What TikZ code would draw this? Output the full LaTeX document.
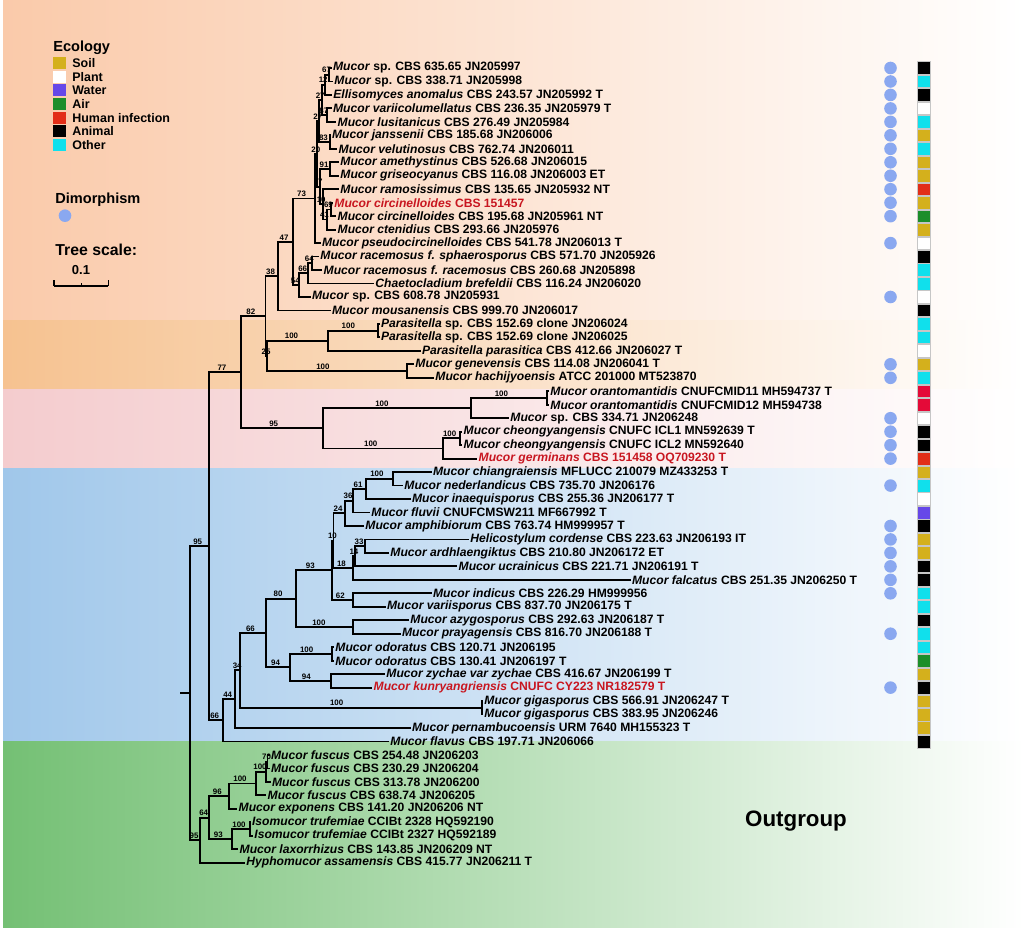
\documentclass[tikz,border=0pt]{standalone}
\usepackage{fontspec}
\setmainfont{Liberation Sans}
\usepackage{tikz}
\usetikzlibrary{positioning}
\definecolor{soilgold}{RGB}{212,176,28}
\definecolor{plantwhite}{RGB}{255,255,255}
\definecolor{waterpurple}{RGB}{102,72,232}
\definecolor{airgreen}{RGB}{28,142,42}
\definecolor{humanred}{RGB}{226,46,24}
\definecolor{crimsonred}{RGB}{228,10,56}
\definecolor{othercyan}{RGB}{16,224,236}
\definecolor{dimblue}{RGB}{138,168,240}
\definecolor{taxonred}{RGB}{200,22,32}
\definecolor{bandpeach}{RGB}{250,202,170}
\definecolor{bandorange}{RGB}{246,194,144}
\definecolor{bandpink}{RGB}{244,204,206}
\definecolor{bandblue}{RGB}{160,199,234}
\definecolor{bandgreen}{RGB}{116,192,116}

\begin{document}
\begin{tikzpicture}[x=0.02cm, y=-0.02cm,
    branch/.style={line width=1.05pt, black},
    leaf/.style={anchor=west, inner sep=0.6pt, font=\fontsize{6.9}{7}\selectfont\bfseries},
    sup/.style={pos=0.7, anchor=south, inner sep=0.5pt, font=\fontsize{4.5}{5}\selectfont\bfseries},
    legendtext/.style={anchor=west, inner sep=0pt, font=\fontsize{7.1}{8}\selectfont\bfseries},
    heading/.style={anchor=west, inner sep=0pt, font=\fontsize{8.3}{9}\selectfont\bfseries},
    declare function={ry(\i)=54.53+13.47*\i;}]
    \useasboundingbox (0,0) rectangle (1024,928);

    % Clade bands
    \fill[white] (0,0) rectangle (1024,928);
    \shade[left color=bandpeach, right color=white] (3,0) rectangle (1024,321);
    \shade[left color=bandorange, right color=white] (3,321) rectangle (1024,390);
    \shade[left color=bandpink, right color=white] (3,390) rectangle (1024,469);
    \shade[left color=bandblue, right color=white] (3,469) rectangle (1024,741);
    \shade[left color=bandgreen, right color=white] (3,741) rectangle (1024,928);

    % Legend
    \node[heading] (ecology) at (53,48) {Ecology};
    \foreach \k/\col in {0/soilgold, 1/plantwhite, 2/waterpurple, 3/airgreen,
                         4/humanred, 5/black, 6/othercyan} {
        \fill[\col] (53,{63.3+13.6*\k-6}) rectangle (65.7,{63.3+13.6*\k+6});
    }
    \foreach \k/\t in {0/Soil, 1/Plant, 2/Water, 3/Air, 4/Human infection, 5/Animal, 6/Other} {
        \node[legendtext] (eco\k) at (72,{63.3+13.6*\k}) {\t};
    }
    \node[heading] (dimorph) at (55,200) {Dimorphism};
    \fill[dimblue] (65,215.7) circle (6.3);
    \node[heading, font=\fontsize{9}{10}\selectfont\bfseries] (treescale) at (55,250) {Tree scale:};
    \node[font=\fontsize{7.4}{8}\selectfont\bfseries, inner sep=0pt] (scaleval) at (81,270) {0.1};
    \coordinate (sbl) at (54,286);
    \coordinate (sbr) at (108.3,286);
    \coordinate (sbm) at (81.2,286);
    \draw[line width=0.6pt] (sbl) -- (sbr);
    \draw[line width=0.6pt] (sbl) -- ++(0,-5.5);
    \draw[line width=0.6pt] (sbr) -- ++(0,-5.5);
    \draw[line width=0.6pt] (sbm) -- ++(0,-2.5);

    % Taxa
    \foreach \i/\lx/\col/\gen/\rest in {
        1/332.7/black/Mucor/sp. CBS 635.65 JN205997,
        2/334/black/Mucor/sp. CBS 338.71 JN205998,
        3/333/black/Ellisomyces anomalus/CBS 243.57 JN205992 T,
        4/332.7/black/Mucor variicolumellatus/CBS 236.35 JN205979 T,
        5/337.3/black/Mucor lusitanicus/CBS 276.49 JN205984,
        6/331.7/black/Mucor janssenii/CBS 185.68 JN206006,
        7/338.3/black/Mucor velutinosus/CBS 762.74 JN206011,
        8/340/black/Mucor amethystinus/CBS 526.68 JN206015,
        9/340/black/Mucor griseocyanus/CBS 116.08 JN206003 ET,
        10/340/black/Mucor ramosissimus/CBS 135.65 JN205932 NT,
        11/334/taxonred/Mucor circinelloides/CBS 151457,
        12/337.3/black/Mucor circinelloides/CBS 195.68 JN205961 NT,
        13/337.3/black/Mucor ctenidius/CBS 293.66 JN205976,
        14/321.7/black/Mucor pseudocircinelloides/CBS 541.78 JN206013 T,
        15/320/black/Mucor racemosus f. sphaerosporus/CBS 571.70 JN205926,
        16/323.3/black/Mucor racemosus f. racemosus/CBS 260.68 JN205898,
        17/375/black/Chaetocladium brefeldii/CBS 116.24 JN206020,
        18/311.7/black/Mucor/sp. CBS 608.78 JN205931,
        19/331.7/black/Mucor mousanensis/CBS 999.70 JN206017,
        20/380.7/black/Parasitella/sp. CBS 152.69 clone JN206024,
        21/380.7/black/Parasitella/sp. CBS 152.69 clone JN206025,
        22/421.7/black/Parasitella parasitica/CBS 412.66 JN206027 T,
        23/415/black/Mucor genevensis/CBS 114.08 JN206041 T,
        24/435/black/Mucor hachijyoensis/ATCC 201000 MT523870,
        25/550/black/Mucor orantomantidis/CNUFCMID11 MH594737 T,
        26/550/black/Mucor orantomantidis/CNUFCMID12 MH594738,
        27/510/black/Mucor/sp. CBS 334.71 JN206248,
        28/463.3/black/Mucor cheongyangensis/CNUFC ICL1 MN592639 T,
        29/463.3/black/Mucor cheongyangensis/CNUFC ICL2 MN592640,
        30/478.3/taxonred/Mucor germinans/CBS 151458 OQ709230 T,
        31/432.7/black/Mucor chiangraiensis/MFLUCC 210079 MZ433253 T,
        32/404/black/Mucor nederlandicus/CBS 735.70 JN206176,
        33/411.7/black/Mucor inaequisporus/CBS 255.36 JN206177 T,
        34/371/black/Mucor fluvii/CNUFCMSW211 MF667992 T,
        35/365/black/Mucor amphibiorum/CBS 763.74 HM999957 T,
        36/470/black/Helicostylum cordense/CBS 223.63 JN206193 IT,
        37/390/black/Mucor ardhlaengiktus/CBS 210.80 JN206172 ET,
        38/458.3/black/Mucor ucrainicus/CBS 221.71 JN206191 T,
        39/631.7/black/Mucor falcatus/CBS 251.35 JN206250 T,
        40/432.7/black/Mucor indicus/CBS 226.29 HM999956,
        41/386.7/black/Mucor variisporus/CBS 837.70 JN206175 T,
        42/410/black/Mucor azygosporus/CBS 292.63 JN206187 T,
        43/401.7/black/Mucor prayagensis/CBS 816.70 JN206188 T,
        44/335/black/Mucor odoratus/CBS 120.71 JN206195,
        45/335/black/Mucor odoratus/CBS 130.41 JN206197 T,
        46/386/black/Mucor zychae var zychae/CBS 416.67 JN206199 T,
        47/373.3/taxonred/Mucor kunryangriensis/CNUFC CY223 NR182579 T,
        48/484/black/Mucor gigasporus/CBS 566.91 JN206247 T,
        49/484/black/Mucor gigasporus/CBS 383.95 JN206246,
        50/411.7/black/Mucor pernambucoensis/URM 7640 MH155323 T,
        51/390/black/Mucor flavus/CBS 197.71 JN206066,
        52/270.7/black/Mucor fuscus/CBS 254.48 JN206203,
        53/270.7/black/Mucor fuscus/CBS 230.29 JN206204,
        54/271.7/black/Mucor fuscus/CBS 313.78 JN206200,
        55/267.3/black/Mucor fuscus/CBS 638.74 JN206205,
        56/238.3/black/Mucor exponens/CBS 141.20 JN206206 NT,
        57/251.7/black/Isomucor trufemiae/CCIBt 2328 HQ592190,
        58/254/black/Isomucor trufemiae/CCIBt 2327 HQ592189,
        59/239.3/black/Mucor laxorrhizus/CBS 143.85 JN206209 NT,
        60/246/black/Hyphomucor assamensis/CBS 415.77 JN206211 T} {
        \node[leaf, text=\col] (l\i) at ({\lx-1},{ry(\i)}) {\textit{\gen} \rest};
    }

    % Internal nodes
    \foreach \n/\nx/\ny in {
        n67/329/74.75, n12/325/84.8, n87/326.7/115.15, n27c/322/100, n83/330/142.1,
        n27b/319/121, n91/330/169, n69/331/209.5, n41/326.7/219.5, n10a/323/204.4,
        n27d/320/186.7, n20/317/153.9, n73/315/198.5, n64/311.7/263.3, n66/307.7/273.4,
        n54/299.3/285.2, n47/292.7/241.9, n38/278.3/276.2, n100a/378.3/330.7,
        n100b/328.3/340.8, n100c/406.7/371.1, n25/267/356, n82/265.5/316.1,
        n100d/547.3/398, n100e/470.7/408.1, n100f/460/438.4, n100g/442.7/448.5,
        n95a/322.7/428.3, n77/241/372.2, n100h/393.3/478.8, n61/366/488.9,
        n36/352.7/500.7, n24/345/513.3, n33/365/546.15, n14/355/556.3, n18/353.3/568,
        n10b/333.5/540.7, n62/353.3/600, n93/331.7/570.4, n100i/353.3/627,
        n80/296/598.7, n100j/331.7/653.9, n94b/330.7/680.9, n94a/290/667.4,
        n66b/266/633, n100k/481.7/707.8, n34/240/670.4, n44/235.3/699.2,
        n66a/222.7/720.3, n95b/209.3/546.3, n70/267.5/761.7, n100l/266/771.8,
        n100m/256/783.5, n96/229.3/796.2, n100n/250/829, n93b/231.7/839.1,
        n64b/209.3/817.7, n95c/200/840.2, root/190/693.2} {
        \coordinate (\n) at (\nx,\ny);
    }
    \coordinate (stub) at (180,693.2);
    \draw[branch] (stub) -- (root);

    % Branches between internal nodes, with support values
    \foreach \p/\ch/\s in {
        root/n95b/95, root/n95c/95, n95b/n77/77, n95b/n66a/66, n77/n82/82, n77/n95a/95,
        n82/n38/38, n82/n25/25, n38/n47/47, n47/n73/73, n47/n54/54, n54/n66/66,
        n66/n64/64, n73/n20/20, n20/n27b/27, n20/n27d/27, n27b/n27c/27, n27b/n83/83,
        n27c/n12/12, n27c/n87/87, n12/n67/67, n27d/n91/91, n27d/n10a/10, n10a/n41/41,
        n41/n69/69, n25/n100b/100, n25/n100c/100, n100b/n100a/100, n95a/n100e/100,
        n95a/n100g/100, n100e/n100d/100, n100g/n100f/100, n66a/n44/44, n44/n34/34,
        n34/n66b/66, n34/n100k/100, n66b/n80/80, n66b/n94a/94, n80/n93/93,
        n80/n100i/100, n93/n10b/10, n93/n62/62, n10b/n24/24, n10b/n18/18, n24/n36/36,
        n36/n61/61, n61/n100h/100, n18/n14/14, n14/n33/33, n94a/n100j/100,
        n94a/n94b/94, n95c/n64b/64, n64b/n96/96, n64b/n93b/93, n96/n100m/100,
        n100m/n100l/100, n100l/n70/70, n93b/n100n/100} {
        \draw[branch] (\p) |- (\ch) node[sup] {\s};
    }

    % Branches to taxa
    \foreach \p/\ch in {
        n67/1, n67/2, n12/3, n87/4, n87/5, n83/6, n83/7, n91/8, n91/9, n10a/10,
        n69/11, n69/12, n41/13, n73/14, n64/15, n64/16, n66/17, n54/18, n38/19,
        n100a/20, n100a/21, n100b/22, n100c/23, n100c/24, n100d/25, n100d/26,
        n100e/27, n100f/28, n100f/29, n100g/30, n100h/31, n100h/32, n61/33, n36/34,
        n24/35, n33/36, n33/37, n14/38, n18/39, n62/40, n62/41, n100i/42, n100i/43,
        n100j/44, n100j/45, n94b/46, n94b/47, n100k/48, n100k/49, n44/50, n66a/51,
        n70/52, n70/53, n100l/54, n100m/55, n96/56, n100n/57, n100n/58, n93b/59,
        n95c/60} {
        \draw[branch] (\p) |- (l\ch);
    }

    % Dimorphism dots
    \foreach \i in {1,...,12,14,18,23,24,27,28,29,30,32,35,36,37,38,39,40,43,47} {
        \fill[dimblue] (890.5,{ry(\i)}) circle (6.3);
    }

    % Ecology strip
    \foreach \i/\col in {1/black, 2/othercyan, 3/black, 4/plantwhite, 5/othercyan, 6/soilgold,
        7/othercyan, 8/soilgold, 9/soilgold, 10/humanred, 11/soilgold, 12/airgreen,
        13/soilgold, 14/plantwhite, 15/black, 16/othercyan, 17/othercyan, 18/plantwhite,
        19/black, 20/othercyan, 21/othercyan, 22/plantwhite, 23/soilgold, 24/othercyan,
        25/crimsonred, 26/crimsonred, 27/plantwhite, 28/black, 29/black, 30/humanred,
        31/soilgold, 32/othercyan, 33/plantwhite, 34/waterpurple, 35/black, 36/soilgold,
        37/soilgold, 38/black, 39/black, 40/othercyan, 41/othercyan, 42/black,
        43/othercyan, 44/othercyan, 45/airgreen, 46/soilgold, 47/black, 48/soilgold,
        49/soilgold, 50/soilgold, 51/black} {
        \filldraw[fill=\col, draw=gray!45, line width=0.3pt] (917,{ry(\i)-6.3}) rectangle (930,{ry(\i)+6.3});
    }

    \node[font=\fontsize{12.7}{14}\selectfont\bfseries] (outgroup) at (796,821) {Outgroup};
\end{tikzpicture}
\end{document}
